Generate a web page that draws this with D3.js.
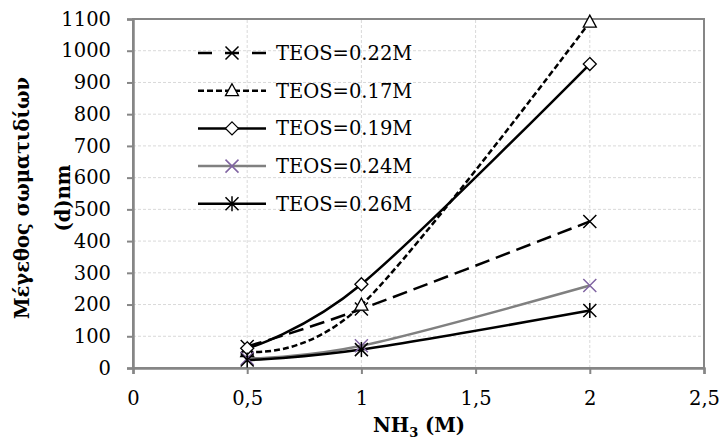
<!DOCTYPE html>
<html>
<head>
<meta charset="utf-8">
<script src="https://cdn.jsdelivr.net/npm/d3@7"></script>
<style>
  body { margin: 0; background: #fff; }
  svg { display: block; font-family: "DejaVu Serif", "Liberation Serif", serif; }
</style>
</head>
<body>
<script>
// x values (NH3, M)
var nh3 = [0.5, 1, 2];
// series names and values (particle size, nm)
var seriesNames = ["TEOS=0.22M", "TEOS=0.17M", "TEOS=0.19M", "TEOS=0.24M", "TEOS=0.26M"];
var teos022 = [68, 186, 462];
var teos017 = [52, 198, 1090];
var teos019 = [62, 264, 958];
var teos024 = [30, 70, 260];
var teos026 = [25, 58, 181];
var xTicks = [0, 0.5, 1, 1.5, 2, 2.5];
var yTicks = [0, 100, 200, 300, 400, 500, 600, 700, 800, 900, 1000, 1100];

var width = 721, height = 445;
var margin = {left: 133, right: 17, top: 19, bottom: 77};
var innerW = width - margin.left - margin.right,
    innerH = height - margin.top - margin.bottom;

var svg = d3.select("body").append("svg")
    .attr("width", width)
    .attr("height", height);

var x = d3.scaleLinear().domain([0, 2.5]).range([margin.left, margin.left + innerW]);
var y = d3.scaleLinear().domain([0, 1100]).range([margin.top + innerH, margin.top]);

// gridlines
svg.append("g").selectAll("line")
    .data(yTicks.slice(1, -1))
    .enter().append("line")
    .attr("x1", x(0)).attr("x2", x(2.5))
    .attr("y1", function(d){ return y(d); })
    .attr("y2", function(d){ return y(d); })
    .attr("stroke", "#d9d9d9").attr("stroke-width", 1)
    .attr("stroke-dasharray", "3,2");
svg.append("g").selectAll("line")
    .data(xTicks.slice(1, -1))
    .enter().append("line")
    .attr("y1", y(0)).attr("y2", y(1100))
    .attr("x1", function(d){ return x(d); })
    .attr("x2", function(d){ return x(d); })
    .attr("stroke", "#d9d9d9").attr("stroke-width", 1)
    .attr("stroke-dasharray", "3,2");

// plot frame (top and right)
svg.append("rect")
    .attr("x", x(0)).attr("y", y(1100))
    .attr("width", x(2.5) - x(0)).attr("height", y(0) - y(1100))
    .attr("fill", "none").attr("stroke", "#868686").attr("stroke-width", 2);

// axes
var yAxis = d3.axisLeft(y).tickValues(yTicks).tickSize(6).tickPadding(16)
    .tickFormat(d3.format("d"));
var xAxis = d3.axisBottom(x).tickValues(xTicks).tickSize(6).tickPadding(17)
    .tickFormat(function(d){ return String(d).replace(".", ","); });

var gy = svg.append("g").attr("transform", "translate(" + x(0) + ",0)").call(yAxis);
var gx = svg.append("g").attr("transform", "translate(0," + y(0) + ")").call(xAxis);
[gx, gy].forEach(function(g){
    g.select(".domain").attr("stroke", "#868686").attr("stroke-width", 2.5);
    g.selectAll(".tick line").attr("stroke", "#868686").attr("stroke-width", 2);
    g.selectAll(".tick text").attr("fill", "#000")
        .style("font-family", "'DejaVu Serif', serif").style("font-size", "19.5px");
});

// series styles
var series = [
    {name: seriesNames[0], values: teos022, color: "#000", dash: "15,7", marker: "x", mcolor: "#000"},
    {name: seriesNames[1], values: teos017, color: "#000", dash: "6,3", marker: "tri", mcolor: "#000"},
    {name: seriesNames[2], values: teos019, color: "#000", dash: null, marker: "dia", mcolor: "#000"},
    {name: seriesNames[3], values: teos024, color: "#808080", dash: null, marker: "x", mcolor: "#8064a2"},
    {name: seriesNames[4], values: teos026, color: "#000", dash: null, marker: "star", mcolor: "#000"}
];

var line = d3.line()
    .x(function(d){ return x(d[0]); })
    .y(function(d){ return y(d[1]); })
    .curve(d3.curveCatmullRom.alpha(0));

function drawMarker(g, type, cx, cy, color){
    if (type === "x"){
        var s = 6.5;
        g.append("path")
            .attr("d", "M" + (cx - s) + "," + (cy - s) + "L" + (cx + s) + "," + (cy + s) +
                       "M" + (cx - s) + "," + (cy + s) + "L" + (cx + s) + "," + (cy - s))
            .attr("stroke", color).attr("stroke-width", 1.5).attr("fill", "none");
    } else if (type === "star"){
        var s2 = 6.5;
        g.append("path")
            .attr("d", "M" + (cx - s2) + "," + (cy - s2) + "L" + (cx + s2) + "," + (cy + s2) +
                       "M" + (cx - s2) + "," + (cy + s2) + "L" + (cx + s2) + "," + (cy - s2) +
                       "M" + cx + "," + (cy - s2 - 1) + "L" + cx + "," + (cy + s2 + 1))
            .attr("stroke", color).attr("stroke-width", 1.5).attr("fill", "none");
    } else if (type === "tri"){
        g.append("path")
            .attr("d", "M" + cx + "," + (cy - 7) + "L" + (cx + 6.5) + "," + (cy + 5) +
                       "L" + (cx - 6.5) + "," + (cy + 5) + "Z")
            .attr("stroke", color).attr("stroke-width", 1.3).attr("fill", "#fff");
    } else if (type === "dia"){
        g.append("path")
            .attr("d", "M" + cx + "," + (cy - 6.5) + "L" + (cx + 6.5) + "," + cy +
                       "L" + cx + "," + (cy + 6.5) + "L" + (cx - 6.5) + "," + cy + "Z")
            .attr("stroke", color).attr("stroke-width", 1.3).attr("fill", "#fff");
    }
}

// lines
series.forEach(function(s){
    var pts = nh3.map(function(v, i){ return [v, s.values[i]]; });
    svg.append("path")
        .datum(pts)
        .attr("d", line)
        .attr("fill", "none")
        .attr("stroke", s.color)
        .attr("stroke-width", 2.5)
        .attr("stroke-dasharray", s.dash);
});
// markers
series.forEach(function(s){
    var g = svg.append("g");
    nh3.forEach(function(v, i){
        drawMarker(g, s.marker, x(v), y(s.values[i]), s.mcolor);
    });
});

// legend
var legend = svg.append("g");
series.forEach(function(s, i){
    var ly = 53 + i * 37.7;
    legend.append("line")
        .attr("x1", 198).attr("x2", 266).attr("y1", ly).attr("y2", ly)
        .attr("stroke", s.color).attr("stroke-width", 2.5)
        .attr("stroke-dasharray", s.dash === "15,7" ? "14,13" : s.dash);
    drawMarker(legend, s.marker, 232, ly, s.mcolor);
    legend.append("text")
        .attr("x", 276).attr("y", ly + 7)
        .style("font-size", "19.5px")
        .text(s.name);
});

// axis titles
var yTitle = svg.append("text")
    .attr("transform", "translate(0,198) rotate(-90)")
    .attr("text-anchor", "middle")
    .style("font-weight", "bold")
    .style("font-size", "19.5px");
yTitle.append("tspan").attr("x", 0).attr("y", 29).text("Μέγεθος σωματιδίων");
yTitle.append("tspan").attr("x", 0).attr("y", 70).text("(d)nm");

var xTitle = svg.append("text")
    .attr("x", 419).attr("y", 432)
    .attr("text-anchor", "middle")
    .style("font-weight", "bold")
    .style("font-size", "19.5px");
xTitle.append("tspan").text("NH");
xTitle.append("tspan").attr("dy", 5).style("font-size", "13px").text("3");
xTitle.append("tspan").attr("dy", -5).text(" (M)");
</script>
</body>
</html>
